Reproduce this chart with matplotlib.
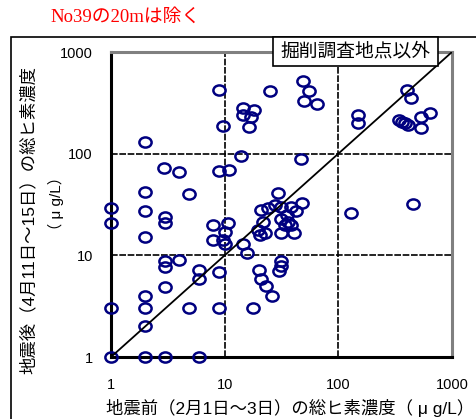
import matplotlib
matplotlib.use("Agg")
import matplotlib.pyplot as plt
from matplotlib.path import Path
from matplotlib.patches import Rectangle

plt.rcParams['font.family'] = ['Liberation Sans', 'Noto Sans CJK JP', 'DejaVu Sans']

# 地震前 / 地震後 の総ヒ素濃度 (μg/L)
before = [
    8.9, 25, 14.5, 18, 14.5, 17, 16.5, 9.7, 2, 13.8,
    2.9, 4, 8.9, 10.9, 2, 4.9, 1, 1, 2, 3,
    3, 2, 7.9, 10.7, 10, 7.9, 9.7, 10, 14.5, 15.7,
    3, 3, 4, 5.9, 5.9, 8.9, 3, 2, 2, 1,
    4.9, 8.9, 17.8, 2, 1, 2, 3, 5.9, 20, 21,
    23, 26, 31, 31, 30, 49, 55, 50, 65, 150,
    150, 400, 440, 345, 365, 385, 410, 537, 635, 537,
    47, 128, 453, 48, 29.5, 24, 21, 27.6, 31.6, 38.7,
    35, 31.6, 36, 34, 38.7, 31.6, 41, 19.7, 20.4, 22.6,
    21.8, 42,
]
after = [
    420, 410, 280, 270, 240, 230, 185, 187, 130, 95,
    73, 66, 68, 69, 42, 40, 29, 21, 27, 24,
    21, 15, 20, 21, 17, 14, 14, 13, 13, 10.5,
    8.8, 7.7, 8.9, 7.1, 5.8, 6.9, 4.9, 4, 3, 3,
    3, 3, 3, 2, 1, 1, 1, 1, 7.1, 5.9,
    5, 4, 8.8, 7.9, 7, 520, 415, 330, 310, 240,
    200, 420, 350, 215, 206, 199, 191, 231, 249, 177,
    88, 26, 32, 33, 41, 29, 28, 31, 30, 30,
    25, 23, 21.4, 20, 20, 16.5, 16.5, 17.7, 15.8, 16.5,
    21.4, 27,
]
ticks = [1, 10, 100, 1000]
tick_labels = ["1", "10", "100", "1000"]

W, H = 477, 419
fig = plt.figure(figsize=(W / 100, H / 100), dpi=100)
ax = fig.add_axes([111 / W, 1 - 357 / H, (452 - 111) / W, (357 - 52) / H])

# 横長の楕円マーカー
circ = Path.unit_circle()
ellipse = Path(circ.vertices * [1, 0.83], circ.codes)

ax.plot(before, after, linestyle="none", marker=ellipse, markersize=8.8,
        markerfacecolor="none", markeredgecolor="#000080",
        markeredgewidth=1.8, clip_on=False, zorder=3)
ax.plot([1, 1000], [1, 1000], color="black", lw=1.3, zorder=4)

ax.set_xscale("log")
ax.set_yscale("log")
ax.set_xlim(1, 1000)
ax.set_ylim(1, 1000)
ax.set_xticks(ticks)
ax.set_xticklabels(tick_labels)
ax.set_yticks(ticks)
ax.set_yticklabels(tick_labels)
ax.minorticks_off()
ax.tick_params(axis="both", length=0, labelsize=10.5)
ax.tick_params(axis="x", pad=15)
ax.tick_params(axis="y", pad=13)

for v in [10, 100]:
    ax.axvline(v, color="black", lw=1.2, ls=(0, (4, 1)), zorder=1)
    ax.axhline(v, color="black", lw=1.2, ls=(0, (4, 1)), zorder=1)

ax.spines["left"].set_linewidth(2.2)
ax.spines["bottom"].set_linewidth(2.2)
ax.spines["top"].set_color("#808080")
ax.spines["right"].set_color("#808080")
ax.spines["top"].set_linewidth(2.2)
ax.spines["right"].set_linewidth(2.2)

# グラフエリアの枠
fig.add_artist(Rectangle((11 / W, -0.1), 1.2, (H - 37) / H + 0.1,
                         transform=fig.transFigure, fill=False,
                         edgecolor="black", lw=1.2))

# 凡例代わりの枠付きラベル
fig.add_artist(Rectangle((273 / W, 1 - 66 / H), (438 - 273) / W, (66 - 37) / H,
                         transform=fig.transFigure, facecolor="white",
                         edgecolor="black", lw=1.2, zorder=5))
fig.text(355.5 / W, 1 - 51.5 / H, "掘削調査地点以外", ha="center", va="center",
         fontsize=13.5, zorder=6)

fig.text(50 / W, 1 - 17 / H, "No39の20mは除く", color="red", fontsize=13.5,
         ha="left", va="center",
         family=["Liberation Serif", "Noto Sans CJK JP"])

fig.text(290.5 / W, 1 - 408 / H, "地震前（2月1日～3日）の総ヒ素濃度（ μ g/L）",
         ha="center", va="center", fontsize=12.5)
fig.text(28 / W, 1 - 220 / H, "地震後（4月11日～15日）の総ヒ素濃度",
         ha="center", va="center", rotation=90, fontsize=12.5)
fig.text(56 / W, 1 - 203 / H, "（ μ g/L）",
         ha="center", va="center", rotation=90, fontsize=11)

fig.savefig("out.png", dpi=100)
